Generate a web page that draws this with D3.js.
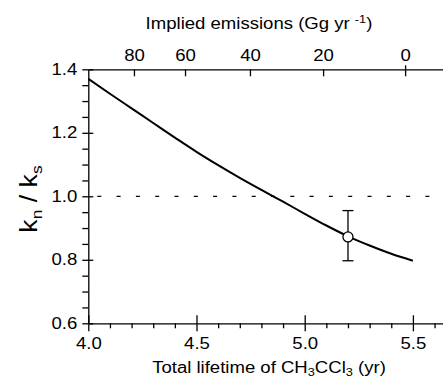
<!DOCTYPE html>
<html><head><meta charset="utf-8">
<script src="https://cdn.jsdelivr.net/npm/d3@7"></script>
<style>
html,body{margin:0;padding:0;background:#fff;}
svg{display:block;font-family:"Liberation Sans",Arial,Helvetica,sans-serif;}
</style></head>
<body>
<svg id="chart" width="443" height="379"></svg>
<script>
// Data
const lifetime = [4.0, 4.1, 4.2, 4.3, 4.4, 4.5, 4.6, 4.7, 4.8, 4.9, 5.0, 5.1, 5.2, 5.3, 5.4, 5.5];
const ratio    = [1.370, 1.323, 1.277, 1.231, 1.185, 1.140, 1.098, 1.058, 1.020, 0.983, 0.945, 0.908, 0.874, 0.845, 0.819, 0.797];
const obsLifetime = [5.2];
const obsRatio = [0.872];
const obsLow = [0.797];
const obsHigh = [0.955];
const refLevel = [1.0];
const xTicks = [4.0, 4.5, 5.0, 5.5];
const xMinor = [4.1, 4.2, 4.3, 4.4, 4.6, 4.7, 4.8, 4.9, 5.1, 5.2, 5.3, 5.4, 5.6];
const yTicks = [0.6, 0.8, 1.0, 1.2, 1.4];
const yMinor = [0.65, 0.7, 0.75, 0.85, 0.9, 0.95, 1.05, 1.1, 1.15, 1.25, 1.3, 1.35];
const emisLabels = ["80", "60", "40", "20", "0"];
const emisAtLifetime = [4.211, 4.447, 4.747, 5.085, 5.464];

(function () {
const svg = d3.select("#chart");
const mLeft = 88.3, mTop = 69.3, mBottom = 323.3;
const x = d3.scaleLinear().domain([4.0, 5.65]).range([mLeft, mLeft + 1.65 * 216.4]);
const y = d3.scaleLinear().domain([0.6, 1.4]).range([mBottom, mTop]);
const mRight = x.range()[1];
const sw = 1.3;
const SX = 1.16;   // horizontal stretch of the reference lettering
const FS = 16;

// Dashed reference line
svg.append("line")
  .attr("x1", mLeft).attr("x2", mRight)
  .attr("y1", y(refLevel[0])).attr("y2", y(refLevel[0]))
  .attr("stroke", "#000").attr("stroke-width", 1.2)
  .attr("stroke-dasharray", "4,15.3").attr("stroke-dashoffset", 10.3);

// Curve
const pts = lifetime.map((d, i) => [d, ratio[i]]);
svg.append("path")
  .attr("d", d3.line().x(d => x(d[0])).y(d => y(d[1])).curve(d3.curveMonotoneX)(pts))
  .attr("fill", "none").attr("stroke", "#000").attr("stroke-width", 2);

// Error bar and point
obsLifetime.forEach((t, i) => {
  const g = svg.append("g").attr("stroke", "#000").attr("stroke-width", sw);
  g.append("line").attr("x1", x(t)).attr("x2", x(t)).attr("y1", y(obsLow[i])).attr("y2", y(obsHigh[i]));
  g.append("line").attr("x1", x(t) - 5.5).attr("x2", x(t) + 5.5).attr("y1", y(obsLow[i])).attr("y2", y(obsLow[i]));
  g.append("line").attr("x1", x(t) - 5.5).attr("x2", x(t) + 5.5).attr("y1", y(obsHigh[i])).attr("y2", y(obsHigh[i]));
  g.append("circle").attr("cx", x(t)).attr("cy", y(obsRatio[i])).attr("r", 5).attr("fill", "#fff");
});

function styleAxis(g) {
  g.selectAll("path").attr("stroke", "#000").attr("stroke-width", sw);
  g.selectAll("line").attr("stroke", "#000").attr("stroke-width", sw);
  g.selectAll("text").attr("font-size", FS).attr("fill", "#000")
    .attr("font-family", "'Liberation Sans', Arial, Helvetica, sans-serif")
    .each(function () {
      const t = d3.select(this);
      const x0 = +(t.attr("x") || 0);
      t.attr("x", x0 / SX).attr("transform", `scale(${SX},1)`);
    });
}

// Left axis
const gl = svg.append("g").attr("transform", `translate(${mLeft},0)`)
  .call(d3.axisLeft(y).tickValues(yTicks).tickSize(6).tickSizeOuter(0).tickPadding(5).tickFormat(d3.format(".1f")));
styleAxis(gl);
gl.selectAll(".tick").append("line").attr("x1", 0).attr("x2", 5).attr("stroke", "#000").attr("stroke-width", sw);
const glm = svg.append("g").attr("transform", `translate(${mLeft},0)`)
  .call(d3.axisLeft(y).tickValues(yMinor).tickSize(6).tickSizeOuter(0).tickFormat(""));
styleAxis(glm);
glm.select(".domain").remove();

// Bottom axis
const gb = svg.append("g").attr("transform", `translate(0,${mBottom})`)
  .call(d3.axisBottom(x).tickValues(xTicks).tickSize(8).tickSizeOuter(0).tickPadding(6).tickFormat(d3.format(".1f")));
styleAxis(gb);
gb.selectAll(".tick").append("line").attr("y1", 0).attr("y2", -8).attr("stroke", "#000").attr("stroke-width", sw);
const gbm = svg.append("g").attr("transform", `translate(0,${mBottom})`)
  .call(d3.axisBottom(x).tickValues(xMinor).tickSize(5).tickSizeOuter(0).tickFormat(""));
styleAxis(gbm);
gbm.select(".domain").remove();

// Top axis (implied emissions)
const gt = svg.append("g").attr("transform", `translate(0,${mTop})`)
  .call(d3.axisTop(x).tickValues(emisAtLifetime).tickSize(-7).tickSizeOuter(0).tickPadding(8)
    .tickFormat((d, i) => emisLabels[i]));
styleAxis(gt);
gt.selectAll(".tick").filter((d, i) => emisLabels[i] === "0")
  .append("line").attr("y1", 0).attr("y2", -4).attr("stroke", "#000").attr("stroke-width", sw);

// Titles
const topTitle = svg.append("text").attr("x", 259 / SX).attr("y", 29).attr("text-anchor", "middle")
  .attr("transform", `scale(${SX},1)`).attr("font-size", FS);
topTitle.append("tspan").text("Implied emissions (Gg yr ");
topTitle.append("tspan").attr("font-size", 11).attr("dy", -6).text("-1");
topTitle.append("tspan").attr("dy", 6).text(")");

const botTitle = svg.append("text").attr("x", 269 / SX).attr("y", 373).attr("text-anchor", "middle")
  .attr("transform", `scale(${SX},1)`).attr("font-size", FS);
botTitle.append("tspan").text("Total lifetime of CH");
botTitle.append("tspan").attr("font-size", 11).attr("dy", 3).text("3");
botTitle.append("tspan").attr("dy", -3).text("CCl");
botTitle.append("tspan").attr("font-size", 11).attr("dy", 3).text("3");
botTitle.append("tspan").attr("dy", -3).text(" (yr)");

const yTitle = svg.append("text").attr("transform", `translate(37,199) rotate(-90) scale(${SX},1)`)
  .attr("text-anchor", "middle").attr("font-size", 23);
yTitle.append("tspan").text("k");
yTitle.append("tspan").attr("font-size", 15).attr("dy", 5).text("n");
yTitle.append("tspan").attr("dy", -5).text(" / k");
yTitle.append("tspan").attr("font-size", 15).attr("dy", 5).text("s");
})();
</script>
</body></html>
